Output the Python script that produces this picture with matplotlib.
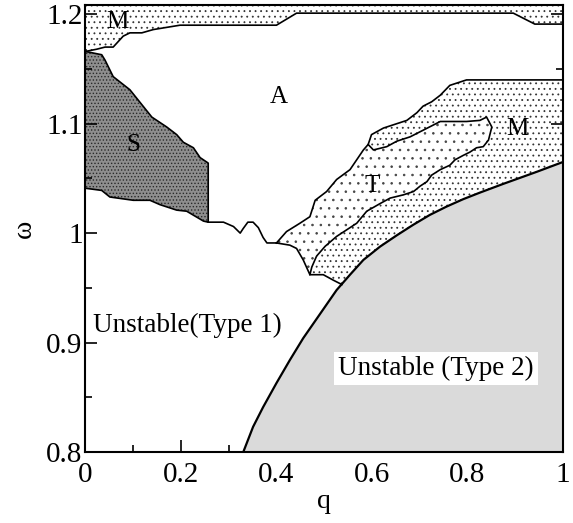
import numpy as np
import matplotlib
matplotlib.use("Agg")
import matplotlib.pyplot as plt
from matplotlib.ticker import MultipleLocator, FuncFormatter

plt.rcParams['font.family'] = ['Liberation Serif', 'DejaVu Serif']
plt.rcParams['hatch.linewidth'] = 0.6

# top "M" band: lower edge
top_m_q = [0, 0.023, 0.041, 0.058, 0.079, 0.093, 0.118, 0.142, 0.198, 0.400, 0.442, 0.896, 0.941, 1.0]
top_m_w = [1.166, 1.168, 1.170, 1.170, 1.180, 1.183, 1.183, 1.186, 1.190, 1.190, 1.201, 1.201, 1.191, 1.191]

# "S" region
s_up_q = [0, 0.034, 0.041, 0.058, 0.093, 0.139, 0.170, 0.191, 0.205, 0.226, 0.240, 0.257, 0.257]
s_up_w = [1.166, 1.163, 1.158, 1.143, 1.131, 1.106, 1.097, 1.090, 1.083, 1.078, 1.069, 1.064, 1.010]
s_lo_q = [0.247, 0.212, 0.191, 0.156, 0.135, 0.100, 0.051, 0.034, 0]
s_lo_w = [1.011, 1.020, 1.021, 1.026, 1.030, 1.030, 1.033, 1.039, 1.041]

# line between S and T (edge of A)
a_q = [0.257, 0.289, 0.310, 0.324, 0.330, 0.340, 0.351, 0.362, 0.372, 0.380, 0.400]
a_w = [1.010, 1.010, 1.006, 1.000, 1.004, 1.010, 1.010, 1.005, 0.996, 0.991, 0.991]

# "T" region
t_out_q = [0.400, 0.421, 0.449, 0.470, 0.481, 0.505, 0.526, 0.554, 0.582, 0.592]
t_out_w = [0.991, 1.0014, 1.009, 1.015, 1.030, 1.038, 1.049, 1.058, 1.076, 1.081]
t_in_q = [0.603, 0.631, 0.652, 0.680, 0.707, 0.743, 0.763, 0.798, 0.826, 0.840, 0.851, 0.844,
          0.833, 0.819, 0.805, 0.791, 0.774, 0.763, 0.743, 0.725, 0.715, 0.701, 0.687, 0.666,
          0.638, 0.617, 0.589, 0.568, 0.547, 0.526, 0.502, 0.484, 0.474, 0.470]
t_in_w = [1.076, 1.079, 1.084, 1.088, 1.094, 1.102, 1.102, 1.102, 1.103, 1.106, 1.097, 1.085,
          1.079, 1.078, 1.074, 1.071, 1.067, 1.062, 1.058, 1.053, 1.047, 1.043, 1.038, 1.035,
          1.032, 1.027, 1.020, 1.009, 1.003, 0.997, 0.988, 0.979, 0.969, 0.962]
t_bot_q = [0.456, 0.442, 0.428]
t_bot_w = [0.9755, 0.986, 0.989]

# right "M" region
m_out_q = [0.592, 0.599, 0.624, 0.645, 0.673, 0.694, 0.707, 0.725, 0.743, 0.763, 0.798, 1.0]
m_out_w = [1.081, 1.090, 1.096, 1.099, 1.103, 1.110, 1.116, 1.120, 1.126, 1.135, 1.140, 1.140]
m_bot_q = [0.537, 0.519, 0.498]
m_bot_w = [0.953, 0.957, 0.962]

# border of "Unstable (Type 2)"
curve_q = [0.3305, 0.351, 0.372, 0.400, 0.428, 0.456, 0.491, 0.526, 0.554, 0.582, 0.617,
           0.652, 0.686, 0.721, 0.756, 0.791, 0.826, 0.875, 0.945, 1.0]
curve_w = [0.8, 0.823, 0.841, 0.863, 0.884, 0.904, 0.926, 0.948, 0.962, 0.9755, 0.9877,
           0.998, 1.0075, 1.0166, 1.0242, 1.031, 1.037, 1.045, 1.056, 1.065]

W_MAX = 1.208

fig = plt.figure(figsize=(5.73, 5.23), dpi=100)
ax = fig.add_axes([0.1492, 0.1358, 0.8333, 0.8537])

lw = 1.2

# top M band
ax.fill(top_m_q + [1.0, 0], top_m_w + [W_MAX, W_MAX], facecolor='white',
        edgecolor='#333333', hatch='...', linewidth=0, zorder=1)
ax.plot(top_m_q, top_m_w, color='k', lw=lw, zorder=3)

# S
ax.fill(s_up_q + s_lo_q, s_up_w + s_lo_w, facecolor='#8e8e8e',
        edgecolor='#2a2a2a', hatch='.....', linewidth=0, zorder=1)
ax.plot(s_up_q + s_lo_q, s_up_w + s_lo_w, color='k', lw=lw, zorder=3)
ax.plot(a_q, a_w, color='k', lw=lw, zorder=3)

# T
tq = t_out_q + t_in_q + t_bot_q
tw = t_out_w + t_in_w + t_bot_w
ax.fill(tq, tw, facecolor='white', edgecolor='#444444', hatch='..',
        linewidth=0, zorder=1)
ax.plot(tq + [tq[0]], tw + [tw[0]], color='k', lw=lw, zorder=3)

# right M
cq = [q for q in curve_q if q > 0.537][::-1]
cw = [w for q, w in zip(curve_q, curve_w) if q > 0.537][::-1]
mq = m_out_q + cq + m_bot_q + t_in_q[::-1]
mw = m_out_w + cw + m_bot_w + t_in_w[::-1]
ax.fill(mq, mw, facecolor='white', edgecolor='#333333', hatch='...',
        linewidth=0, zorder=1)
ax.plot(m_out_q, m_out_w, color='k', lw=lw, zorder=3)
ax.plot([t_in_q[-1]] + m_bot_q[::-1], [t_in_w[-1]] + m_bot_w[::-1], color='k', lw=lw, zorder=3)

# unstable type 2
ax.fill(curve_q + [1.0], curve_w + [0.8], facecolor='#dadada', linewidth=0, zorder=2)
ax.plot(curve_q, curve_w, color='k', lw=1.6, zorder=3)

# labels
fs = 18
ax.text(0.044, 1.187, 'M', fontsize=fs, zorder=4)
ax.text(0.386, 1.119, 'A', fontsize=fs, zorder=4)
ax.text(0.086, 1.075, 'S', fontsize=fs, zorder=4)
ax.text(0.585, 1.038, 'T', fontsize=fs, zorder=4)
ax.text(0.882, 1.090, 'M', fontsize=fs, zorder=4)
ax.text(0.016, 0.910, 'Unstable(Type 1)', fontsize=19.5, zorder=4)
ax.text(0.529, 0.870, 'Unstable (Type 2)', fontsize=19.5, zorder=4,
        bbox=dict(facecolor='white', edgecolor='none', pad=3))

ax.set_xlim(0, 1)
ax.set_ylim(0.8, W_MAX)
ax.xaxis.set_major_locator(MultipleLocator(0.2))
ax.xaxis.set_minor_locator(MultipleLocator(0.1))
ax.yaxis.set_major_locator(MultipleLocator(0.1))
ax.yaxis.set_minor_locator(MultipleLocator(0.05))
fmt = FuncFormatter(lambda v, p: f"{v:g}")
ax.xaxis.set_major_formatter(fmt)
ax.yaxis.set_major_formatter(fmt)
ax.tick_params(which='both', direction='in', right=True, top=False, width=1.2)
ax.tick_params(which='major', length=8.5, labelsize=21)
ax.tick_params(which='minor', length=5)
ax.tick_params(axis='x', which='major', pad=7)
ax.tick_params(axis='y', which='major', pad=2)
for s in ax.spines.values():
    s.set_linewidth(1.5)
    s.set_zorder(5)

ax.set_xlabel('q', fontsize=20, labelpad=1)
ax.set_ylabel('ω', fontsize=20, labelpad=7)

fig.savefig('out.png', dpi=100)
